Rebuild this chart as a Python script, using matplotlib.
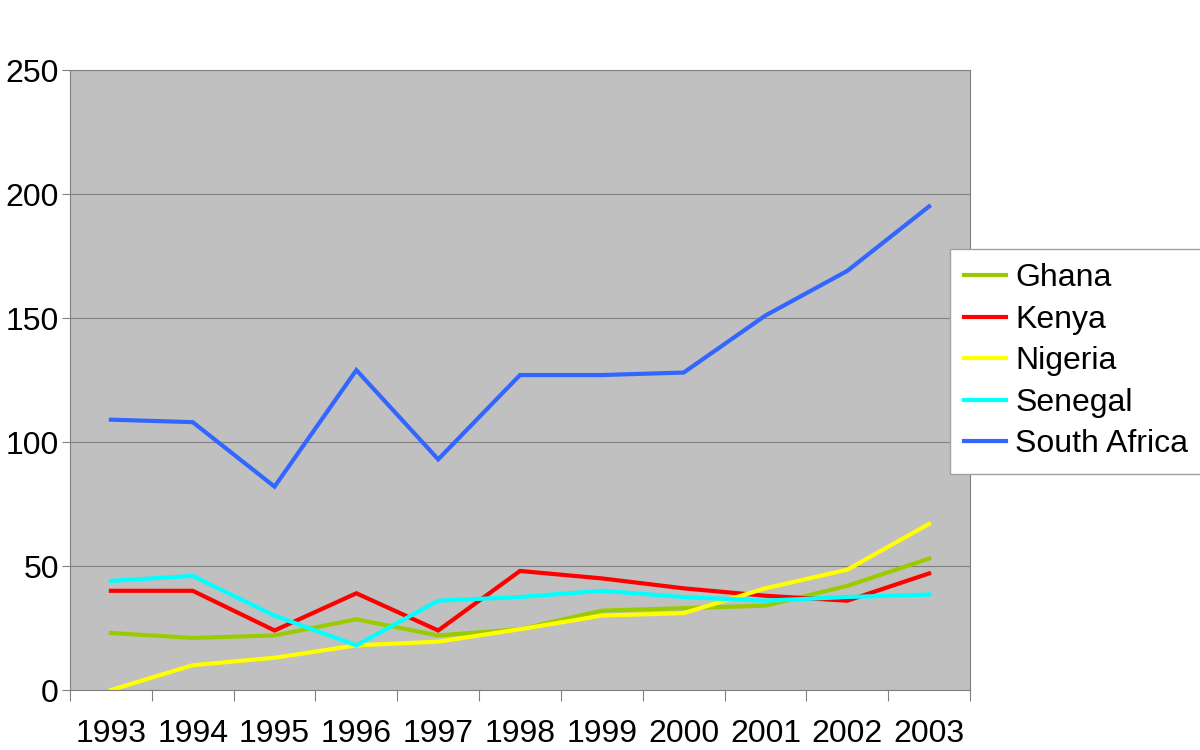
import matplotlib.pyplot as plt
import numpy as np

plt.rcParams['font.family'] = ['Liberation Sans', 'DejaVu Sans']

years = ['1993', '1994', '1995', '1996', '1997', '1998', '1999', '2000', '2001', '2002', '2003']
ghana = [23, 21, 22, 28.5, 22, 24.5, 32, 33, 34, 42, 53]
kenya = [40, 40, 24, 39, 24, 48, 45, 41, 38, 36, 47]
nigeria = [0, 10, 13, 18, 19.5, 24.5, 30, 31, 41, 48.5, 67]
senegal = [44, 46, 30, 18, 36, 37.5, 40, 37.5, 36, 37.5, 38.5]
south_africa = [109, 108, 82, 129, 93, 127, 127, 128, 151, 169, 195]

series = [
    ('Ghana', ghana, '#99cc00'),
    ('Kenya', kenya, '#ff0000'),
    ('Nigeria', nigeria, '#ffff00'),
    ('Senegal', senegal, '#00ffff'),
    ('South Africa', south_africa, '#3366ff'),
]

fig = plt.figure(figsize=(12, 7.5), dpi=100)
ax = fig.add_axes([70 / 1200, 60 / 750, 900 / 1200, 620 / 750])
ax.set_facecolor('#c0c0c0')

x = np.arange(len(years))
for name, vals, col in series:
    ax.plot(x, vals, color=col, lw=3, label=name, solid_joinstyle='miter')

ax.set_xlim(-0.5, len(years) - 0.5)
ax.set_ylim(0, 250)
ax.set_yticks(range(0, 251, 50))
ax.yaxis.grid(True, color='#808080', lw=0.8)
ax.set_axisbelow(True)

# category ticks sit on slot boundaries, labels in the slot centres
ax.set_xticks(np.arange(-0.5, len(years), 1.0))
ax.set_xticklabels([])
ax.set_xticks(x, minor=True)
ax.set_xticklabels(years, minor=True)
ax.tick_params(axis='x', which='major', length=8, color='#808080')
ax.tick_params(axis='x', which='minor', length=0, pad=21, labelsize=23)
ax.tick_params(axis='y', length=6, color='#808080', labelsize=23, pad=2)
for s in ax.spines.values():
    s.set_color('#808080')

leg = ax.legend(loc='upper left', bbox_to_anchor=(880 / 900, (690 - 249) / 620),
                fontsize=23, frameon=True, fancybox=False, edgecolor='#a0a0a0',
                facecolor='white', framealpha=1,
                handlelength=1.3, handletextpad=0.3, labelspacing=0.36, borderpad=0.45,
                borderaxespad=0)
leg.get_frame().set_linewidth(1)
for line in leg.get_lines():
    line.set_linewidth(3)

fig.savefig('out.png', dpi=100)
